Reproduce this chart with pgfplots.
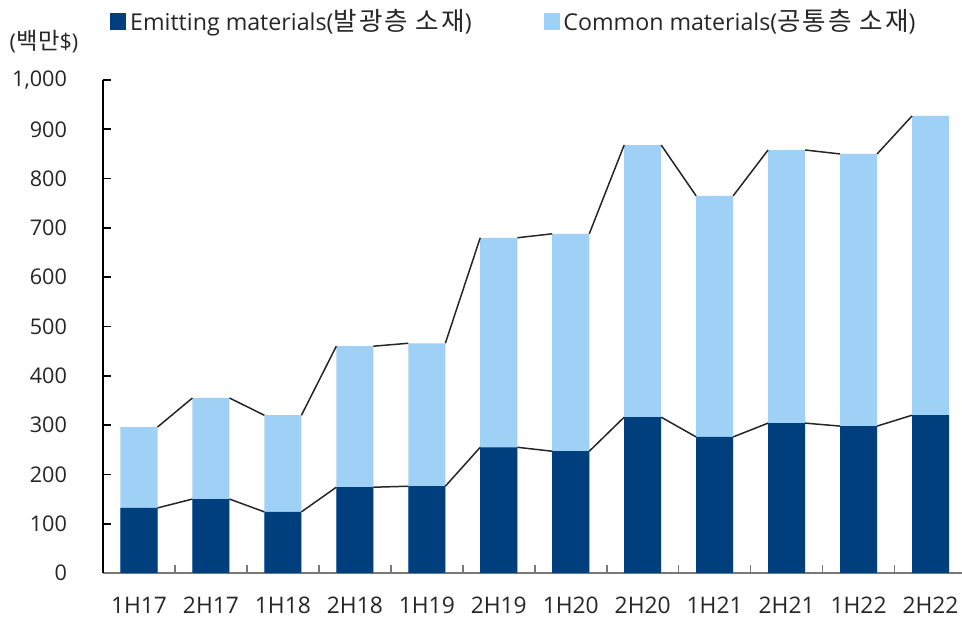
\documentclass[border=0pt]{standalone}
\usepackage{fontspec}
\setmainfont{Open Sans}
\newfontfamily\kr[Scale=1.08, LetterSpace=3]{Noto Sans CJK KR}
\newfontfamily\krleg[Scale=1.1, LetterSpace=8]{Noto Sans CJK KR}
\usepackage{pgfplots}
\usepackage{pgfplotstable}
\pgfplotsset{compat=1.18}
\definecolor{darkb}{RGB}{0,63,125}
\definecolor{lightb}{RGB}{159,208,245}
\definecolor{axgray}{RGB}{120,120,120}
\pgfplotstableread{
i emit common
0 132 164
1 150 205
2 124 196
3 174 286
4 176 290
5 255 425
6 247 441
7 316 552
8 276 489
9 304 554
10 298 552
11 320 607
}\datatab
\begin{document}
\begin{tikzpicture}
\begin{axis}[
  scale only axis,
  width=431.75pt, height=246.5pt,
  xmin=-0.5, xmax=11.5, ymin=0, ymax=1000,
  axis x line*=bottom, axis y line*=left,
  x axis line style={axgray, line width=0.8pt},
  y axis line style={black, line width=0.8pt},
  xtick={0,...,11},
  xticklabels={1H17,2H17,1H18,2H18,1H19,2H19,1H20,2H20,1H21,2H21,1H22,2H22},
  major x tick style={draw=none},
  minor xtick={0.5,1.5,...,10.5},
  minor x tick style={axgray, line width=0.8pt},
  ytick={0,100,...,1000},
  major y tick style={black, line width=0.8pt},
  tick align=inside,
  major tick length=4pt, minor tick length=4pt,
  /pgf/number format/assume math mode=true,
  /pgf/number format/1000 sep={,},
  yticklabel style={font=\fontsize{10.8pt}{12pt}\selectfont, text=black!85, anchor=east, xshift=-14.5pt},
  xticklabel style={font=\fontsize{11.4pt}{13pt}\selectfont, text=black!85, anchor=north, yshift=-8.5pt},
  ylabel={({\kr 백만}\$)},
  every axis y label/.style={at={(axis description cs:0,1)}, anchor=center, xshift=-29.5pt, yshift=19pt, font=\fontsize{10.8pt}{12pt}\selectfont, text=black!85},
  legend columns=2,
  legend style={draw=none, fill=none, at={(axis description cs:0,1)}, anchor=west, xshift=3.5pt, yshift=29.5pt, inner sep=0pt, font=\fontsize{11.6pt}{13pt}\selectfont, text=black!85,
    /tikz/every even column/.append style={column sep=34pt}},
  legend cell align=left,
  clip=false,
]
\addlegendimage{legend image code/.code={\fill[darkb] (0pt,-4pt) rectangle (7.5pt,4pt);}}
\addlegendentry{Emitting materials({\krleg 발광층 소재})}
\addlegendimage{legend image code/.code={\fill[lightb] (0pt,-4pt) rectangle (7.5pt,4pt);}}
\addlegendentry{Common materials({\krleg 공통층 소재})}
\addplot[ybar, bar width=0.515, bar shift=0pt, fill=lightb, draw=none, forget plot]
  table[x=i, y expr=\thisrow{emit}+\thisrow{common}]{\datatab};
\addplot[ybar, bar width=0.515, bar shift=0pt, fill=darkb, draw=none, forget plot]
  table[x=i, y=emit]{\datatab};
% connector lines between bar tops (bar edges at i +/- 0.2575)
\addplot[black!85, line width=0.75pt, unbounded coords=jump, forget plot] coordinates {
 (0.2575,296) (0.7425,355) (1,nan)
 (1.2575,355) (1.7425,320) (2,nan)
 (2.2575,320) (2.7425,460) (3,nan)
 (3.2575,460) (3.7425,466) (4,nan)
 (4.2575,466) (4.7425,680) (5,nan)
 (5.2575,680) (5.7425,688) (6,nan)
 (6.2575,688) (6.7425,868) (7,nan)
 (7.2575,868) (7.7425,765) (8,nan)
 (8.2575,765) (8.7425,858) (9,nan)
 (9.2575,858) (9.7425,850) (10,nan)
 (10.2575,850) (10.7425,927)
};
\addplot[black!85, line width=0.75pt, unbounded coords=jump, forget plot] coordinates {
 (0.2575,132) (0.7425,150) (1,nan)
 (1.2575,150) (1.7425,124) (2,nan)
 (2.2575,124) (2.7425,174) (3,nan)
 (3.2575,174) (3.7425,176) (4,nan)
 (4.2575,176) (4.7425,255) (5,nan)
 (5.2575,255) (5.7425,247) (6,nan)
 (6.2575,247) (6.7425,316) (7,nan)
 (7.2575,316) (7.7425,276) (8,nan)
 (8.2575,276) (8.7425,304) (9,nan)
 (9.2575,304) (9.7425,298) (10,nan)
 (10.2575,298) (10.7425,320)
};
\end{axis}
\pgfresetboundingbox
\path (-51.5pt,-26.5pt) rectangle (429.5pt,286.5pt);
\end{tikzpicture}
\end{document}
